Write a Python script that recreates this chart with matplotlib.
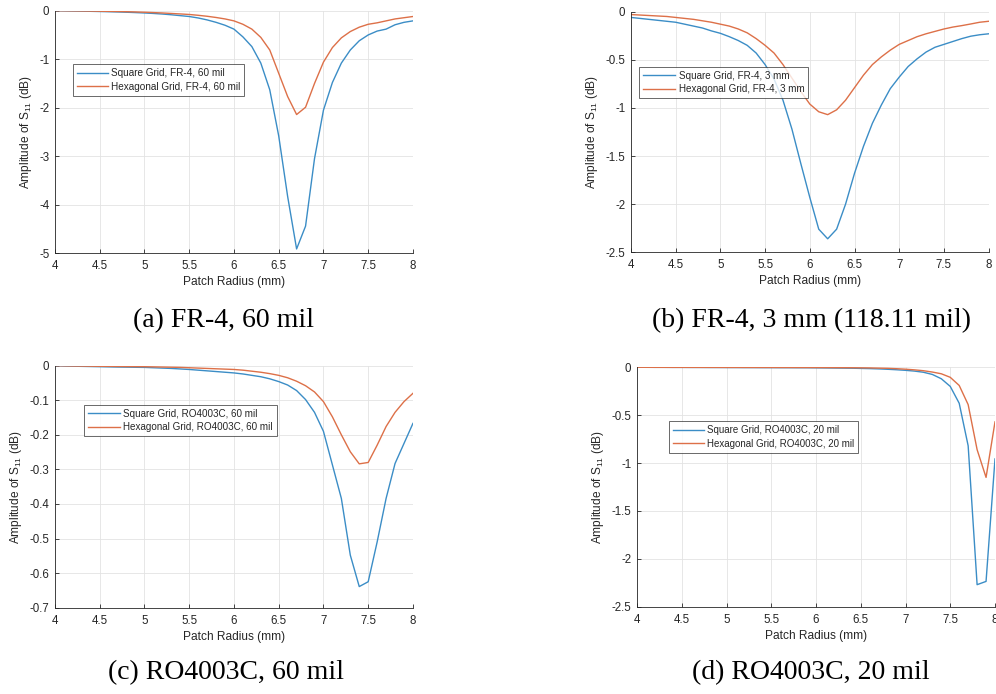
import matplotlib
matplotlib.use("Agg")
import matplotlib.pyplot as plt

plt.rcParams['font.family'] = ['Liberation Sans', 'DejaVu Sans']
plt.rcParams['mathtext.default'] = 'regular'

radius = [4.0, 4.1, 4.2, 4.3, 4.4, 4.5, 4.6, 4.7, 4.8, 4.9,
          5.0, 5.1, 5.2, 5.3, 5.4, 5.5, 5.6, 5.7, 5.8, 5.9,
          6.0, 6.1, 6.2, 6.3, 6.4, 6.5, 6.6, 6.7, 6.8, 6.9,
          7.0, 7.1, 7.2, 7.3, 7.4, 7.5, 7.6, 7.7, 7.8, 7.9, 8.0]

# (a) FR-4, 60 mil
sq_a = [0.000, -0.003, -0.006, -0.009, -0.013, -0.017, -0.021, -0.026, -0.032, -0.039,
        -0.047, -0.057, -0.069, -0.084, -0.102, -0.120, -0.150, -0.19, -0.24, -0.30,
        -0.38, -0.54, -0.74, -1.08, -1.63, -2.58, -3.83, -4.91, -4.44, -3.05,
        -2.05, -1.48, -1.08, -0.81, -0.62, -0.50, -0.42, -0.38, -0.29, -0.24, -0.21]
hx_a = [0.000, -0.002, -0.004, -0.006, -0.008, -0.011, -0.014, -0.017, -0.021, -0.026,
        -0.032, -0.039, -0.047, -0.057, -0.067, -0.078, -0.095, -0.115, -0.14, -0.17,
        -0.21, -0.28, -0.38, -0.55, -0.81, -1.29, -1.77, -2.14, -1.99, -1.50,
        -1.06, -0.76, -0.56, -0.43, -0.34, -0.28, -0.25, -0.21, -0.17, -0.145, -0.12]

# (b) FR-4, 3 mm
sq_b = [-0.06, -0.07, -0.08, -0.09, -0.10, -0.11, -0.13, -0.15, -0.17, -0.20,
        -0.225, -0.26, -0.30, -0.35, -0.43, -0.55, -0.70, -0.92, -1.22, -1.58,
        -1.93, -2.26, -2.36, -2.26, -2.00, -1.68, -1.40, -1.16, -0.97, -0.80,
        -0.68, -0.57, -0.49, -0.42, -0.37, -0.34, -0.31, -0.28, -0.255, -0.24, -0.23]
hx_b = [-0.03, -0.035, -0.04, -0.045, -0.05, -0.06, -0.07, -0.08, -0.095, -0.11,
        -0.13, -0.15, -0.18, -0.22, -0.28, -0.35, -0.43, -0.55, -0.69, -0.83,
        -0.96, -1.04, -1.07, -1.02, -0.92, -0.79, -0.66, -0.55, -0.47, -0.40,
        -0.34, -0.30, -0.26, -0.23, -0.205, -0.18, -0.16, -0.145, -0.128, -0.11, -0.10]

# (c) RO4003C, 60 mil
sq_c = [0.000, -0.001, -0.0015, -0.002, -0.0025, -0.003, -0.0035, -0.004, -0.0043, -0.0047,
        -0.005, -0.006, -0.007, -0.008, -0.0095, -0.011, -0.013, -0.015, -0.017, -0.019,
        -0.021, -0.024, -0.028, -0.032, -0.038, -0.046, -0.056, -0.072, -0.098, -0.135,
        -0.19, -0.287, -0.384, -0.548, -0.639, -0.625, -0.51, -0.384, -0.283, -0.225, -0.167]
hx_c = [0.000, -0.0005, -0.001, -0.0012, -0.0015, -0.0018, -0.002, -0.0023, -0.0026, -0.0028,
        -0.003, -0.0035, -0.004, -0.0045, -0.005, -0.006, -0.007, -0.008, -0.009, -0.010,
        -0.011, -0.013, -0.016, -0.019, -0.023, -0.028, -0.035, -0.045, -0.058, -0.076,
        -0.104, -0.148, -0.200, -0.249, -0.284, -0.280, -0.230, -0.176, -0.135, -0.104, -0.080]

# (d) RO4003C, 20 mil
sq_d = [0.000, -0.0005, -0.001, -0.001, -0.0015, -0.0015, -0.002, -0.002, -0.0025, -0.0025,
        -0.003, -0.003, -0.0035, -0.0035, -0.004, -0.004, -0.0045, -0.0045, -0.005, -0.005,
        -0.006, -0.007, -0.008, -0.009, -0.010, -0.012, -0.014, -0.017, -0.021, -0.026,
        -0.032, -0.040, -0.052, -0.075, -0.120, -0.200, -0.376, -0.82, -2.27, -2.236, -0.957]
hx_d = [0.000, -0.0003, -0.0005, -0.0007, -0.0009, -0.001, -0.001, -0.0012, -0.0013, -0.0015,
        -0.0016, -0.0017, -0.0018, -0.002, -0.002, -0.0022, -0.0024, -0.0026, -0.0028, -0.003,
        -0.003, -0.0035, -0.004, -0.0045, -0.005, -0.006, -0.007, -0.009, -0.011, -0.015,
        -0.020, -0.027, -0.036, -0.050, -0.068, -0.105, -0.19, -0.39, -0.86, -1.15, -0.57]

xticks = [4, 4.5, 5, 5.5, 6, 6.5, 7, 7.5, 8]
xticklabels = ['4', '4.5', '5', '5.5', '6', '6.5', '7', '7.5', '8']

panels = [
    dict(rect=[0.0552, 0.6350, 0.3594, 0.3496], sq=sq_a, hx=hx_a,
         ylim=(-5, 0), yticks=[-5, -4, -3, -2, -1, 0],
         yticklabels=['-5', '-4', '-3', '-2', '-1', '0'],
         labels=['Square Grid, FR-4, 60 mil', 'Hexagonal Grid, FR-4, 60 mil'],
         leg=(0.049, 0.780), legfs=7.2, hl=3.1,
         caption='(a) FR-4, 60 mil', cap_xy=(223, 321)),
    dict(rect=[0.6335, 0.6365, 0.3591, 0.3467], sq=sq_b, hx=hx_b,
         ylim=(-2.5, 0), yticks=[-2.5, -2, -1.5, -1, -0.5, 0],
         yticklabels=['-2.5', '-2', '-1.5', '-1', '-0.5', '0'],
         labels=['Square Grid, FR-4, 3 mm', 'Hexagonal Grid, FR-4, 3 mm'],
         leg=(0.022, 0.771), legfs=7.1, hl=3.3,
         caption='(b) FR-4, 3 mm (118.11 mil)', cap_xy=(811, 321)),
    dict(rect=[0.0552, 0.1244, 0.3594, 0.3487], sq=sq_c, hx=hx_c,
         ylim=(-0.7, 0), yticks=[-0.7, -0.6, -0.5, -0.4, -0.3, -0.2, -0.1, 0],
         yticklabels=['-0.7', '-0.6', '-0.5', '-0.4', '-0.3', '-0.2', '-0.1', '0'],
         labels=['Square Grid, RO4003C, 60 mil', 'Hexagonal Grid, RO4003C, 60 mil'],
         leg=(0.080, 0.838), legfs=7.1, hl=3.25,
         caption='(c) RO4003C, 60 mil', cap_xy=(226, 673)),
    dict(rect=[0.6396, 0.1258, 0.3594, 0.3450], sq=sq_d, hx=hx_d,
         ylim=(-2.5, 0), yticks=[-2.5, -2, -1.5, -1, -0.5, 0],
         yticklabels=['-2.5', '-2', '-1.5', '-1', '-0.5', '0'],
         labels=['Square Grid, RO4003C, 20 mil', 'Hexagonal Grid, RO4003C, 20 mil'],
         leg=(0.089, 0.774), legfs=7.0, hl=3.2,
         caption='(d) RO4003C, 20 mil', cap_xy=(811, 673)),
]

blue = '#3b8dc6'
orange = '#dd7048'
axcol = '#262626'

W, H = 996, 694
fig = plt.figure(figsize=(W / 100, H / 100), dpi=100)

for p in panels:
    ax = fig.add_axes(p['rect'])
    ax.plot(radius, p['sq'], color=blue, lw=1.0, label=p['labels'][0])
    ax.plot(radius, p['hx'], color=orange, lw=1.0, label=p['labels'][1])
    ax.set_xlim(4, 8)
    ax.set_ylim(*p['ylim'])
    ax.set_xticks(xticks)
    ax.set_xticklabels(xticklabels)
    ax.set_yticks(p['yticks'])
    ax.set_yticklabels(p['yticklabels'])
    ax.grid(True, color='#e3e3e3', lw=0.6)
    ax.set_axisbelow(True)
    for s in ['top', 'right']:
        ax.spines[s].set_visible(False)
    for s in ['left', 'bottom']:
        ax.spines[s].set_color(axcol)
        ax.spines[s].set_linewidth(0.6)
    ax.tick_params(direction='in', length=3, width=0.6, colors=axcol,
                   labelsize=8.3)
    ax.tick_params(axis='x', pad=5)
    ax.tick_params(axis='y', pad=4)
    ax.set_xlabel('Patch Radius (mm)', fontsize=8.6, color=axcol, labelpad=3)
    ax.set_ylabel('Amplitude of S$_{11}$ (dB)', fontsize=8.6, color=axcol, labelpad=4)
    leg = ax.legend(loc='upper left', bbox_to_anchor=p['leg'], borderaxespad=0,
                    fontsize=p['legfs'], frameon=True, fancybox=False,
                    handlelength=p['hl'], handletextpad=0.35, labelspacing=0.35,
                    borderpad=0.4)
    leg.get_frame().set_edgecolor(axcol)
    leg.get_frame().set_linewidth(0.6)
    for t in leg.get_texts():
        t.set_color(axcol)
    fig.text(p['cap_xy'][0] / W, 1 - p['cap_xy'][1] / H, p['caption'],
             ha='center', va='center', fontsize=20,
             family=['Liberation Serif', 'DejaVu Serif'], color='black')

fig.savefig('out.png', dpi=100)
